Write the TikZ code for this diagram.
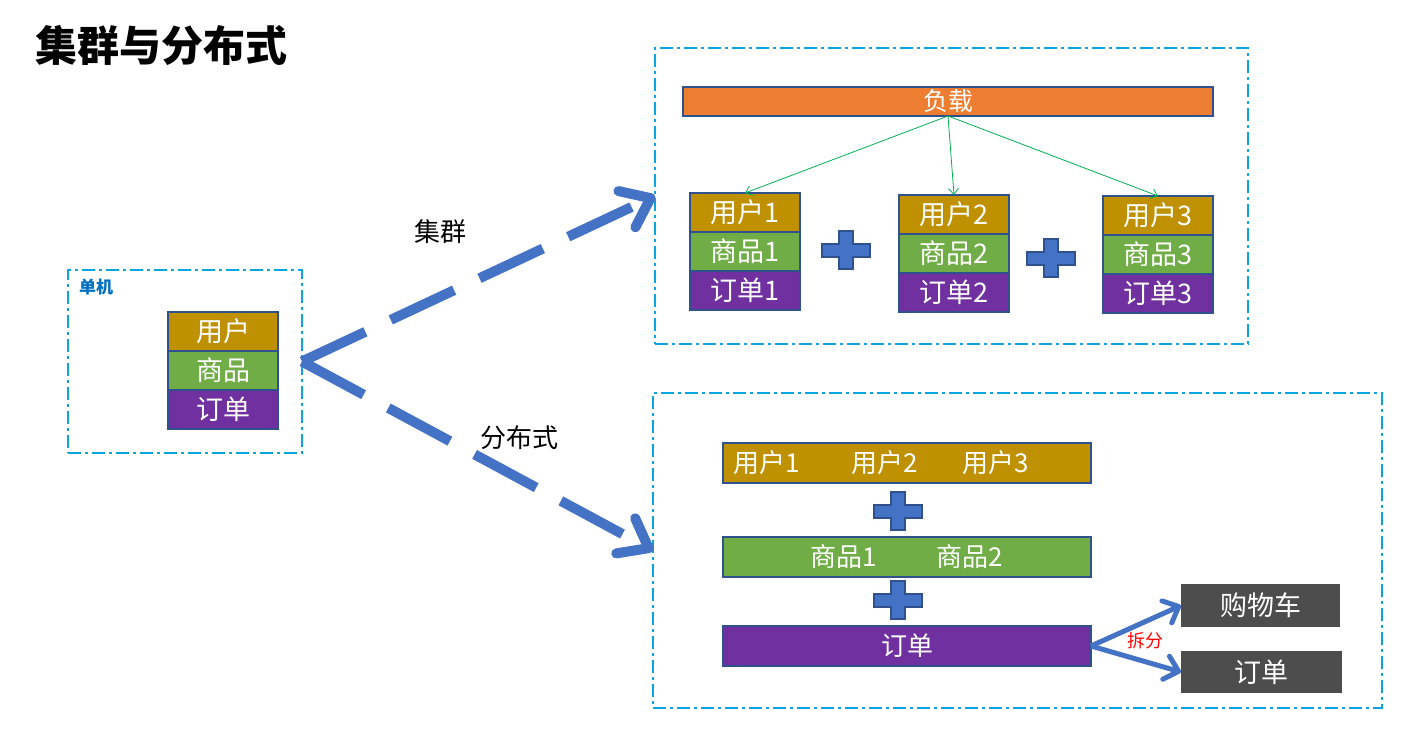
\documentclass[tikz,border=0pt]{standalone}
\usepackage{fontspec}
\setmainfont{Noto Sans CJK SC}
\usetikzlibrary{positioning,arrows.meta}
\definecolor{dashcyan}{RGB}{10,165,225}
\definecolor{edgeblue}{RGB}{47,82,143}
\definecolor{usergold}{RGB}{191,144,0}
\definecolor{goodsgreen}{RGB}{112,173,71}
\definecolor{orderpurple}{RGB}{112,48,160}
\definecolor{loadorange}{RGB}{237,125,49}
\definecolor{arrowblue}{RGB}{68,114,196}
\definecolor{boxgray}{RGB}{77,77,77}
\definecolor{linkgreen}{RGB}{0,176,80}
\definecolor{labelblue}{RGB}{0,112,192}

\begin{document}
\begin{tikzpicture}[x=1pt,y=-1pt,
	every node/.style={inner sep=0pt,outer sep=0pt},
	frame/.style={draw=dashcyan,line width=2pt,dash pattern=on 13pt off 4pt on 3pt off 4pt,anchor=north west},
	cell/.style={draw=edgeblue,line width=2pt,text=white,minimum width=110pt,minimum height=39pt,font=\fontsize{27}{30}\selectfont},
	bar/.style={draw=edgeblue,line width=2pt,text=white,minimum width=368pt,minimum height=40pt,anchor=north west,font=\fontsize{26}{28}\selectfont},
	graybox/.style={fill=boxgray,text=white,anchor=north west,font=\fontsize{27}{30}\selectfont},
	bartext/.style={text=white,font=\fontsize{26}{28}\selectfont},
	bigarrow/.style={draw=arrowblue,line width=10pt,dash pattern=on 70pt off 28pt,-{Straight Barb[length=26pt,width=40pt,round]}},
	splitarrow/.style={draw=arrowblue,line width=5pt,-{Straight Barb[length=13pt,width=24pt,round]}},
	loadarrow/.style={draw=linkgreen,line width=0.8pt,-{Straight Barb[length=6pt,width=10pt]}},
	plussign/.pic={\draw[fill=arrowblue,draw=edgeblue,line width=1.5pt]
		(-24,-6)--(-7,-6)--(-7,-19)--(7,-19)--(7,-6)--(24,-6)--(24,7)--(7,7)--(7,19)--(-7,19)--(-7,7)--(-24,7)--cycle;}]
	\useasboundingbox (0,0) rectangle (1403,736);

	% title
	\node[anchor=west,font=\fontsize{42}{46}\selectfont\bfseries] (title) at (35,45) {集群与分布式};

	% single machine
	\node[frame,minimum width=234pt,minimum height=183pt] (single) at (68,270) {};
	\node[anchor=west,text=labelblue,font=\fontsize{17}{19}\selectfont\bfseries] (singlelabel) at (79,287) {单机};
	\node[cell,fill=usergold,anchor=north west] (su) at (168,312) {用户};
	\node[cell,fill=goodsgreen,below=0pt of su] (sg) {商品};
	\node[cell,fill=orderpurple,below=0pt of sg] (so) {订单};

	% cluster
	\node[frame,minimum width=593pt,minimum height=296pt] (cluster) at (655,48) {};
	\node[draw=edgeblue,line width=2pt,fill=loadorange,text=white,minimum width=530pt,minimum height=29pt,anchor=north west,font=\fontsize{25}{27}\selectfont] (load) at (683,87) {负载};
	\node[cell,fill=usergold,anchor=north west] (u1) at (690,193) {用户1};
	\node[cell,fill=goodsgreen,below=0pt of u1] (g1) {商品1};
	\node[cell,fill=orderpurple,below=0pt of g1] (o1) {订单1};
	\node[cell,fill=usergold,anchor=north west] (u2) at (899,195) {用户2};
	\node[cell,fill=goodsgreen,below=0pt of u2] (g2) {商品2};
	\node[cell,fill=orderpurple,below=0pt of g2] (o2) {订单2};
	\node[cell,fill=usergold,anchor=north west] (u3) at (1103,196) {用户3};
	\node[cell,fill=goodsgreen,below=0pt of u3] (g3) {商品3};
	\node[cell,fill=orderpurple,below=0pt of g3] (o3) {订单3};
	\pic at (846,250) {plussign};
	\pic at (1051,258) {plussign};
	\draw[loadarrow] (load.south) -- (u1.north);
	\draw[loadarrow] (load.south) -- (u2.north);
	\draw[loadarrow] (load.south) -- (u3.north);

	% distributed
	\node[frame,minimum width=729pt,minimum height=315pt] (dist) at (653,393) {};
	\node[bar,fill=usergold] (users) at (723,443) {};
	\node[bartext] (user1) at (767,463) {用户1};
	\node[bartext] (user2) at (885,463) {用户2};
	\node[bartext] (user3) at (996,463) {用户3};
	\pic at (898,511) {plussign};
	\node[bar,fill=goodsgreen] (goods) at (723,537) {};
	\node[bartext] (goods1) at (844,557) {商品1};
	\node[bartext] (goods2) at (970,557) {商品2};
	\pic at (898,600) {plussign};
	\node[bar,fill=orderpurple] (orders) at (723,626) {订单};
	\node[graybox,minimum width=159pt,minimum height=43pt] (cart) at (1181,584) {购物车};
	\node[graybox,minimum width=161pt,minimum height=42pt] (order) at (1181,651) {订单};
	\draw[splitarrow] (orders.east) -- (cart.west);
	\draw[splitarrow] (orders.east) -- (order.west);
	\node[text=red,font=\fontsize{18}{20}\selectfont] (split) at (1145,641) {拆分};

	% big arrows
	\draw[bigarrow] (single.east) -- (cluster.west);
	\draw[bigarrow] (single.east) -- (dist.west);
	\node[font=\fontsize{26}{28}\selectfont] (clusterlabel) at (440,232) {集群};
	\node[font=\fontsize{26}{28}\selectfont] (distlabel) at (519,438) {分布式};
\end{tikzpicture}
\end{document}
